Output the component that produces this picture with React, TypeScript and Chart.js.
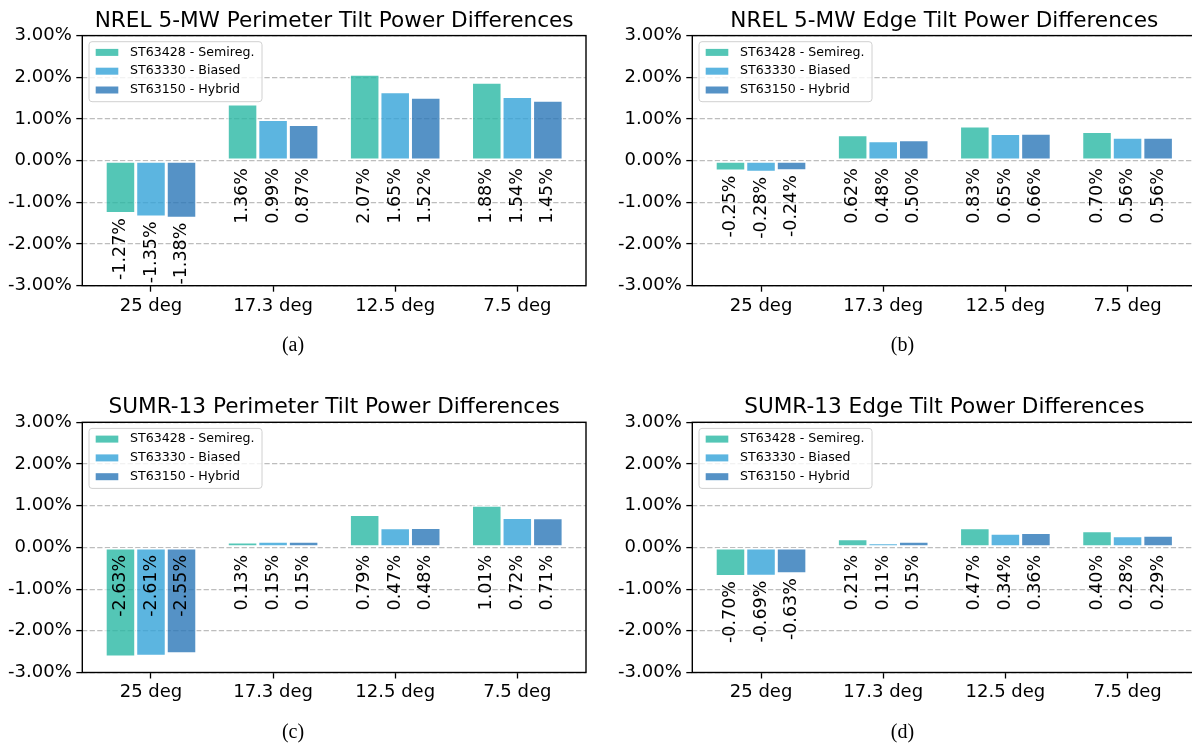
import React, { useEffect, useRef } from 'react';
import { Chart, registerables } from 'chart.js';

Chart.register(...registerables);

// ---------- data ----------
const categories = ['25 deg', '17.3 deg', '12.5 deg', '7.5 deg'];
const seriesNames = ['ST63428 - Semireg.', 'ST63330 - Biased', 'ST63150 - Hybrid'];
const yTickValues = [-3, -2, -1, 0, 1, 2, 3];

const nrelPerimeterSemireg = [-1.27, 1.36, 2.07, 1.88];
const nrelPerimeterBiased = [-1.35, 0.99, 1.65, 1.54];
const nrelPerimeterHybrid = [-1.38, 0.87, 1.52, 1.45];

const nrelEdgeSemireg = [-0.25, 0.62, 0.83, 0.7];
const nrelEdgeBiased = [-0.28, 0.48, 0.65, 0.56];
const nrelEdgeHybrid = [-0.24, 0.5, 0.66, 0.56];

const sumrPerimeterSemireg = [-2.63, 0.13, 0.79, 1.01];
const sumrPerimeterBiased = [-2.61, 0.15, 0.47, 0.72];
const sumrPerimeterHybrid = [-2.55, 0.15, 0.48, 0.71];

const sumrEdgeSemireg = [-0.7, 0.21, 0.47, 0.4];
const sumrEdgeBiased = [-0.69, 0.11, 0.34, 0.28];
const sumrEdgeHybrid = [-0.63, 0.15, 0.36, 0.29];

const panelTitles = [
  'NREL 5-MW Perimeter Tilt Power Differences',
  'NREL 5-MW Edge Tilt Power Differences',
  'SUMR-13 Perimeter Tilt Power Differences',
  'SUMR-13 Edge Tilt Power Differences',
];
const panelCaptions = ['(a)', '(b)', '(c)', '(d)'];
const panelSeries = [
  [nrelPerimeterSemireg, nrelPerimeterBiased, nrelPerimeterHybrid],
  [nrelEdgeSemireg, nrelEdgeBiased, nrelEdgeHybrid],
  [sumrPerimeterSemireg, sumrPerimeterBiased, sumrPerimeterHybrid],
  [sumrEdgeSemireg, sumrEdgeBiased, sumrEdgeHybrid],
];

// ---------- styles / layout ----------
const barColors = ['rgba(41,184,164,0.8)', 'rgba(51,163,216,0.8)', 'rgba(43,119,184,0.8)'];
const FONT = '"DejaVu Sans", sans-serif';
const SERIF = '"Liberation Serif", "Times New Roman", serif';
const X_AXIS_H = 40;

const layouts = [
  { left: 0, top: 0, w: 600, h: 387, x0: 82.3, y0: 35.6, x1: 586, y1: 285.7, cx: 293, cy: 351.4, tdx: 0 },
  { left: 600, top: 0, w: 610, h: 387, x0: 692.3, y0: 35.6, x1: 1196.3, y1: 285.7, cx: 902.5, cy: 351.4, tdx: 0 },
  { left: 0, top: 387, w: 600, h: 358, x0: 82.3, y0: 422.3, x1: 586, y1: 672.5, cx: 293, cy: 738, tdx: 0 },
  { left: 600, top: 387, w: 610, h: 358, x0: 692.3, y0: 422.3, x1: 1196.3, y1: 672.5, cx: 902.5, cy: 738, tdx: 0 },
];

function makeDecorPlugin(title: string, caption: string, lay: any) {
  return {
    id: 'decor',
    afterDatasetsDraw(chart: any) {
      const { ctx, chartArea: ca } = chart;
      const yScale = chart.scales.y;
      const zeroY = yScale.getPixelForValue(0);
      // bar value labels
      ctx.save();
      ctx.font = `17.5px ${FONT}`;
      ctx.fillStyle = '#000';
      chart.data.datasets.forEach((ds: any, di: number) => {
        const meta = chart.getDatasetMeta(di);
        meta.data.forEach((bar: any, i: number) => {
          const v = ds.data[i].y;
          const txt = v.toFixed(2) + '%';
          const w = ctx.measureText(txt).width;
          let anchor = zeroY + 7.5;
          if (v < 0) {
            const endY = yScale.getPixelForValue(v);
            anchor = endY + 4.5;
            if (anchor + w > ca.bottom) anchor = zeroY + 7.5;
          }
          ctx.save();
          ctx.translate(bar.x, anchor);
          ctx.rotate(-Math.PI / 2);
          ctx.textAlign = 'right';
          ctx.textBaseline = 'middle';
          ctx.fillText(txt, 0, 0);
          ctx.restore();
        });
      });
      ctx.restore();

      // frame
      ctx.save();
      ctx.strokeStyle = '#000';
      ctx.lineWidth = 1.4;
      ctx.strokeRect(ca.left, ca.top, ca.right - ca.left, ca.bottom - ca.top);
      ctx.restore();

      // legend
      ctx.save();
      const lx = ca.left + 6.7;
      const ly = ca.top + 6.1;
      const lw = 173;
      const lh = 60;
      const r = 3;
      ctx.beginPath();
      ctx.moveTo(lx + r, ly);
      ctx.lineTo(lx + lw - r, ly);
      ctx.arcTo(lx + lw, ly, lx + lw, ly + r, r);
      ctx.lineTo(lx + lw, ly + lh - r);
      ctx.arcTo(lx + lw, ly + lh, lx + lw - r, ly + lh, r);
      ctx.lineTo(lx + r, ly + lh);
      ctx.arcTo(lx, ly + lh, lx, ly + lh - r, r);
      ctx.lineTo(lx, ly + r);
      ctx.arcTo(lx, ly, lx + r, ly, r);
      ctx.closePath();
      ctx.fillStyle = 'rgba(255,255,255,0.8)';
      ctx.fill();
      ctx.strokeStyle = '#d0d0d0';
      ctx.lineWidth = 1;
      ctx.stroke();
      ctx.font = `12.6px ${FONT}`;
      ctx.textBaseline = 'middle';
      ctx.textAlign = 'left';
      chart.data.datasets.forEach((ds: any, di: number) => {
        const rowY = ca.top + 16.8 + di * 18.8;
        ctx.fillStyle = ds.backgroundColor;
        ctx.fillRect(ca.left + 13.4, rowY - 3.5, 22.6, 7);
        ctx.fillStyle = '#000';
        ctx.fillText(ds.label, ca.left + 47.7, rowY);
      });
      ctx.restore();

      // title
      ctx.save();
      ctx.font = `21.6px ${FONT}`;
      ctx.fillStyle = '#000';
      ctx.textAlign = 'center';
      ctx.textBaseline = 'alphabetic';
      ctx.fillText(title, (ca.left + ca.right) / 2 + lay.tdx, ca.top - 9);
      ctx.restore();

      // caption
      ctx.save();
      ctx.font = `20px ${SERIF}`;
      ctx.fillStyle = '#000';
      ctx.textAlign = 'center';
      ctx.textBaseline = 'alphabetic';
      ctx.fillText(caption, lay.cx - lay.left, lay.cy - lay.top);
      ctx.restore();
    },
  };
}

function Panel({ idx }: { idx: number }) {
  const ref = useRef<HTMLCanvasElement | null>(null);
  const lay = layouts[idx];
  useEffect(() => {
    if (!ref.current) return;
    const series = panelSeries[idx];
    const yAxisW = lay.x0 - lay.left;
    const chart = new Chart(ref.current, {
      type: 'bar',
      data: {
        datasets: series.map((vals, si) => ({
          label: seriesNames[si],
          data: vals.map((v, i) => ({ x: i, y: v })),
          backgroundColor: barColors[si],
          borderColor: 'rgba(255,255,255,0.95)',
          borderWidth: 1.5,
          borderSkipped: false,
          inflateAmount: 0,
          categoryPercentage: 0.75,
          barPercentage: 1.0,
        })),
      },
      options: {
        responsive: false,
        animation: false,
        events: [],
        layout: {
          padding: {
            left: 0,
            top: lay.y0 - lay.top,
            right: lay.left + lay.w - lay.x1,
            bottom: lay.top + lay.h - lay.y1 - X_AXIS_H,
          },
        },
        plugins: {
          legend: { display: false },
          title: { display: false },
          tooltip: { enabled: false },
        },
        scales: {
          x: {
            type: 'linear',
            offset: false,
            min: -0.5625,
            max: 3.5625,
            afterBuildTicks: (s: any) => {
              s.ticks = categories.map((_, i) => ({ value: i }));
            },
            afterFit: (s: any) => {
              s.height = X_AXIS_H;
            },
            ticks: {
              autoSkip: false,
              maxRotation: 0,
              minRotation: 0,
              padding: 3.5,
              color: '#000',
              font: { family: FONT, size: 18 },
              callback: (v: any) => categories[Math.round(Number(v))] ?? '',
            },
            grid: {
              offset: false,
              drawOnChartArea: false,
              drawTicks: true,
              tickLength: 6,
              tickColor: '#000',
              tickWidth: 1.3,
            },
            border: { display: false },
          },
          y: {
            type: 'linear',
            min: -3,
            max: 3,
            afterBuildTicks: (s: any) => {
              s.ticks = yTickValues.map((v) => ({ value: v }));
            },
            afterFit: (s: any) => {
              s.width = yAxisW;
            },
            ticks: {
              padding: 4.5,
              color: '#000',
              font: { family: FONT, size: 18 },
              callback: (v: any) => Number(v).toFixed(2) + '%',
            },
            grid: {
              color: '#bdbdbd',
              lineWidth: 1.2,
              drawTicks: true,
              tickLength: 6,
              tickColor: '#000',
              tickWidth: 1.3,
              tickBorderDash: [],
            },
            border: { display: false, dash: [5.3, 2.3] },
          },
        },
      },
      plugins: [makeDecorPlugin(panelTitles[idx], panelCaptions[idx], lay)],
    } as any);
    return () => chart.destroy();
  }, [idx]);
  return (
    <canvas
      ref={ref}
      width={lay.w}
      height={lay.h}
      style={{ position: 'absolute', left: lay.left, top: lay.top, width: lay.w, height: lay.h }}
    />
  );
}

export default function App() {
  return (
    <div
      style={{
        position: 'fixed',
        left: 0,
        top: 0,
        width: 1192,
        height: 745,
        overflow: 'hidden',
        background: '#fff',
      }}
    >
      {[0, 1, 2, 3].map((i) => (
        <Panel key={i} idx={i} />
      ))}
    </div>
  );
}
